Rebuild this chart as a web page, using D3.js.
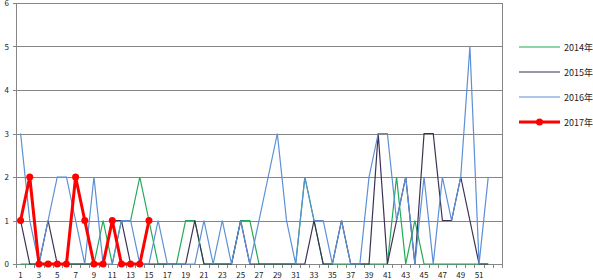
<!DOCTYPE html>
<html>
<head>
<meta charset="utf-8">
<script src="https://cdn.jsdelivr.net/npm/d3@7"></script>
<style>
  body { margin: 0; background: #fff; }
  svg { display: block; font-family: "Noto Sans CJK SC", "DejaVu Sans", sans-serif; }
</style>
</head>
<body>
<svg width="593" height="280"></svg>
<script>
// weeks 1..52 plus one empty slot at the end (as in the source chart)
const weeks = d3.range(1, 53);
const yTicks = [0, 1, 2, 3, 4, 5, 6];
const seriesNames = ["2014年", "2015年", "2016年", "2017年"];

const y2014 = [0,0,0,0,0,0,0,0,0,1, 0,1,1,2,1,0,0,0,1,1, 0,0,0,0,1,1,0,0,0,0,
               0,2,1,0,0,0,0,0,0,0, 0,2,0,1,0,0,0,0,0,0, 0,0];
const y2015 = [1,0,0,1,0,0,0,0,0,0, 1,1,0,0,0,0,0,0,0,1, 0,0,0,0,1,0,0,0,0,0,
               0,0,1,0,0,1,0,0,0,3, 0,1,2,0,3,3,1,1,2,1, 0,0];
const y2016 = [3,1,0,1,2,2,1,0,2,0, 0,1,1,0,0,1,0,0,0,0, 1,0,1,0,1,0,1,2,3,1,
               0,2,1,1,0,1,0,0,2,3, 3,1,2,0,2,0,2,1,2,5, 0,2];
const y2017 = [1,2,0,0,0,0,2,1,0,0, 1,0,0,0,1];

const colors = ["#1faa55", "#3c3253", "#5b8fd6", "#ff0000"];

const svg = d3.select("svg");
const plot = {left: 16, right: 502, top: 3, bottom: 264};

const x = d3.scaleBand()
    .domain(weeks.concat([""]))
    .range([plot.left, plot.right]);
const y = d3.scaleLinear()
    .domain([0, 6])
    .range([plot.bottom, plot.top]);

// gridlines
svg.append("g")
    .selectAll("line")
    .data(yTicks)
    .enter()
    .append("line")
    .attr("x1", plot.left - 3)
    .attr("x2", plot.right)
    .attr("y1", d => Math.round(y(d)) + 0.5)
    .attr("y2", d => Math.round(y(d)) + 0.5)
    .attr("stroke", "#868686")
    .attr("stroke-width", 1);

// y axis line + labels
svg.append("line")
    .attr("x1", plot.left + 0.5).attr("x2", plot.left + 0.5)
    .attr("y1", plot.top).attr("y2", plot.bottom + 1)
    .attr("stroke", "#868686");
svg.append("line")
    .attr("x1", plot.right + 0.5).attr("x2", plot.right + 0.5)
    .attr("y1", plot.top).attr("y2", plot.bottom + 4)
    .attr("stroke", "#868686");

svg.append("g")
    .selectAll("text")
    .data(yTicks)
    .enter()
    .append("text")
    .attr("x", 9)
    .attr("y", d => y(d) + 3)
    .attr("text-anchor", "end")
    .attr("font-size", 8)
    .attr("fill", "#222")
    .text(d => d);

// x ticks at band edges
const edges = x.domain().map(d => x(d)).concat([plot.right]);
svg.append("g")
    .selectAll("line")
    .data(edges)
    .enter()
    .append("line")
    .attr("x1", d => Math.round(d) + 0.5)
    .attr("x2", d => Math.round(d) + 0.5)
    .attr("y1", plot.bottom)
    .attr("y2", plot.bottom + 4)
    .attr("stroke", "#868686");

svg.append("g")
    .selectAll("text")
    .data(weeks.filter(d => d % 2 == 1))
    .enter()
    .append("text")
    .attr("x", d => x(d) + x.bandwidth() / 2)
    .attr("y", 278)
    .attr("text-anchor", "middle")
    .attr("font-size", 8)
    .attr("fill", "#222")
    .text(d => d);

// series
const cx = (d, i) => x(weeks[i]) + x.bandwidth() / 2;
const line = d3.line().x(cx).y(d => y(d));

const allSeries = [y2014, y2015, y2016, y2017];
allSeries.forEach((vals, k) => {
    svg.append("path")
        .datum(vals)
        .attr("d", line)
        .attr("fill", "none")
        .attr("stroke", colors[k])
        .attr("stroke-width", k == 3 ? 3 : 1.2)
        .attr("stroke-linejoin", "miter");
});

svg.append("g")
    .selectAll("circle")
    .data(y2017)
    .enter()
    .append("circle")
    .attr("cx", cx)
    .attr("cy", d => y(d))
    .attr("r", 3.5)
    .attr("fill", colors[3]);

// legend
const legend = svg.append("g")
    .selectAll("g")
    .data(seriesNames)
    .enter()
    .append("g")
    .attr("transform", (d, i) => `translate(519, ${47 + i * 25})`);

legend.append("line")
    .attr("x1", 0).attr("x2", 41)
    .attr("stroke", (d, i) => colors[i])
    .attr("stroke-width", (d, i) => i == 3 ? 3 : 1.2);

legend.filter((d, i) => i == 3)
    .append("circle")
    .attr("cx", 20.5)
    .attr("r", 3.5)
    .attr("fill", colors[3]);

legend.append("text")
    .attr("x", 45)
    .attr("y", 3.5)
    .attr("font-size", 9)
    .attr("fill", "#222")
    .text(d => d);
</script>
</body>
</html>
